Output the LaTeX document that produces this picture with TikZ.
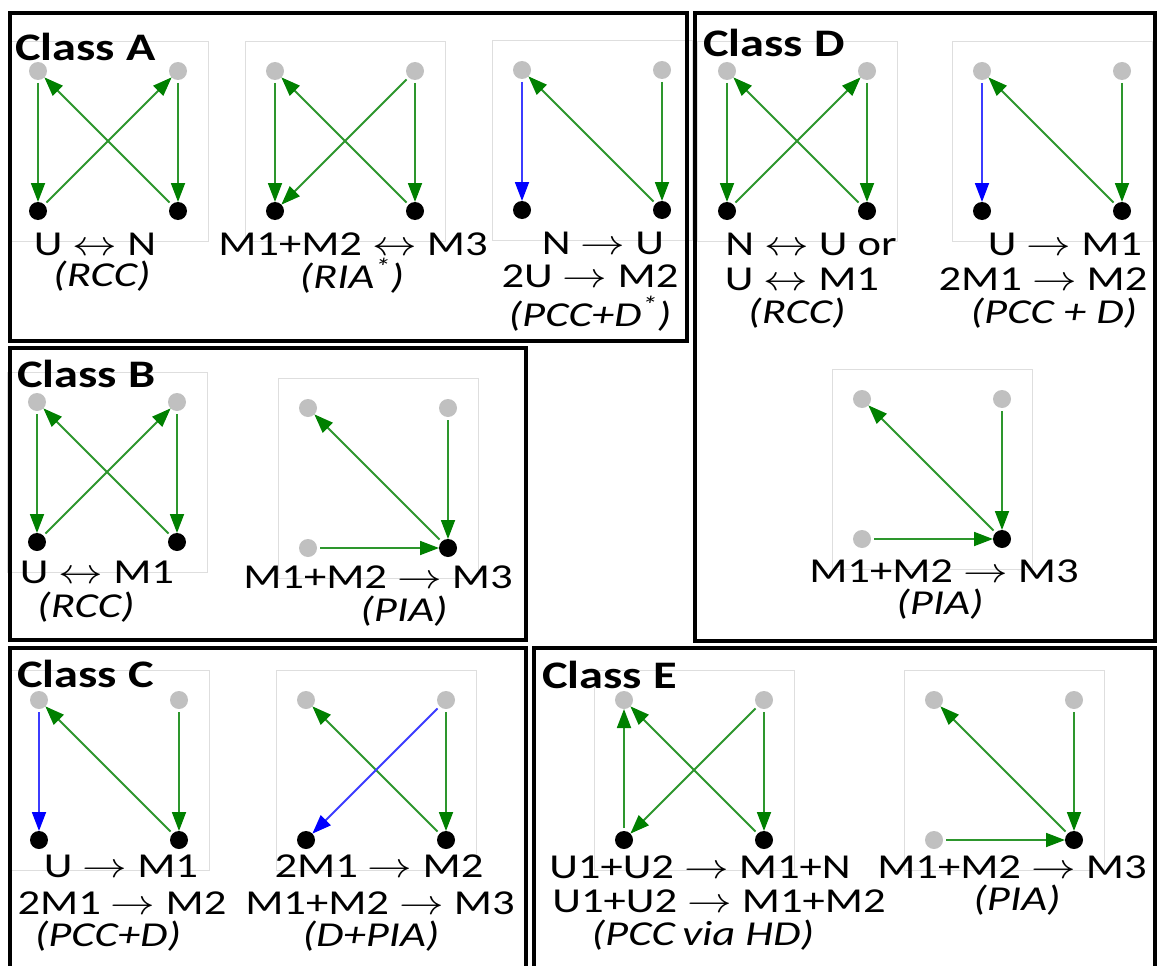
\RequirePackage{fix-cm}
\documentclass[tikz,border=0pt]{standalone}
\usepackage{fontspec}
\setmainfont{Carlito}
\usepackage{graphicx}
\usetikzlibrary{arrows.meta}
\definecolor{eg}{RGB}{0,128,0}
\definecolor{lg}{RGB}{45,150,45}
\definecolor{eb}{RGB}{0,0,255}
\definecolor{lb}{RGB}{60,60,255}
\definecolor{dotgray}{RGB}{192,192,192}
\definecolor{framegray}{RGB}{222,222,222}
\newcommand\sx[1]{\scalebox{1.275}[1]{#1}}
\newcommand\sxb[1]{\scalebox{1.24}[1]{#1}}
\newcommand\mkpanel[4]{%
  \draw[pframe] (#2-30,#3-30) rectangle (#2+170,#3+170);
  \node[gdot] (#1a) at (#2,#3) {};
  \node[gdot] (#1b) at (#2+140,#3) {};
  \node[#4] (#1c) at (#2,#3+140) {};
  \node[bdot] (#1d) at (#2+140,#3+140) {};}
\tikzset{
  gdot/.style={circle, fill=dotgray, minimum size=18pt, inner sep=0pt, outer sep=0pt},
  bdot/.style={circle, fill=black, minimum size=18pt, inner sep=0pt, outer sep=0pt},
  garr/.style={draw=lg, line width=1.8pt, -{Triangle[length=19pt,width=14pt,color=eg]}, shorten <=3pt},
  barr/.style={draw=lb, line width=1.8pt, -{Triangle[length=19pt,width=14pt,color=eb]}, shorten <=3pt},
  pframe/.style={draw=framegray, line width=0.8pt},
  cbox/.style={draw=black, line width=4pt},
  lbl/.style={anchor=base, inner sep=0pt, text height=24pt, text depth=5pt, font=\fontsize{35}{35}\selectfont},
  ilbl/.style={anchor=base, inner sep=0pt, text height=24pt, text depth=5pt, font=\fontsize{35}{35}\selectfont\itshape},
  clbl/.style={anchor=base west, inner sep=0pt, font=\fontsize{39}{39}\selectfont\bfseries}
}
\begin{document}
\begin{tikzpicture}[x=1pt,y=-1pt]
\useasboundingbox (0,0) rectangle (1157,966);
\clip (0,0) rectangle (1157,966);
\fill[white] (0,0) rectangle (1157,966);
% panels
\mkpanel{A1}{38}{71}{bdot}
\mkpanel{A2}{275}{71}{bdot}
\mkpanel{A3}{522}{70}{bdot}
\mkpanel{D1}{727}{71}{bdot}
\mkpanel{D2}{982}{71}{bdot}
\mkpanel{D3}{862}{399}{gdot}
\mkpanel{B1}{37}{402}{bdot}
\mkpanel{B2}{308}{408}{gdot}
\mkpanel{C1}{39}{700}{bdot}
\mkpanel{C2}{306}{700}{bdot}
\mkpanel{E1}{624}{700}{bdot}
\mkpanel{E2}{934}{700}{gdot}
% edges
\draw[garr] (A1a) -- (A1c); \draw[garr] (A1b) -- (A1d);
\draw[garr] (A1c) -- (A1b); \draw[garr] (A1d) -- (A1a);
\draw[garr] (A2a) -- (A2c); \draw[garr] (A2b) -- (A2d);
\draw[garr] (A2d) -- (A2a); \draw[garr] (A2b) -- (A2c);
\draw[barr] (A3a) -- (A3c); \draw[garr] (A3d) -- (A3a); \draw[garr] (A3b) -- (A3d);
\draw[garr] (D1a) -- (D1c); \draw[garr] (D1b) -- (D1d);
\draw[garr] (D1c) -- (D1b); \draw[garr] (D1d) -- (D1a);
\draw[barr] (D2a) -- (D2c); \draw[garr] (D2d) -- (D2a); \draw[garr] (D2b) -- (D2d);
\draw[garr] (D3d) -- (D3a); \draw[garr] (D3b) -- (D3d); \draw[garr] (D3c) -- (D3d);
\draw[garr] (B1a) -- (B1c); \draw[garr] (B1b) -- (B1d);
\draw[garr] (B1c) -- (B1b); \draw[garr] (B1d) -- (B1a);
\draw[garr] (B2d) -- (B2a); \draw[garr] (B2b) -- (B2d); \draw[garr] (B2c) -- (B2d);
\draw[barr] (C1a) -- (C1c); \draw[garr] (C1d) -- (C1a); \draw[garr] (C1b) -- (C1d);
\draw[garr] (C2d) -- (C2a); \draw[barr] (C2b) -- (C2c); \draw[garr] (C2b) -- (C2d);
\draw[garr] (E1c) -- (E1a); \draw[garr] (E1d) -- (E1a);
\draw[garr] (E1b) -- (E1c); \draw[garr] (E1b) -- (E1d);
\draw[garr] (E2d) -- (E2a); \draw[garr] (E2b) -- (E2d); \draw[garr] (E2c) -- (E2d);
% class labels
\node[clbl] (tA) at (15,60) {\sxb{Class A}};
\node[clbl] (tD) at (703,57) {\sxb{Class D}};
\node[clbl] (tB) at (17,387) {\sxb{Class B}};
\node[clbl] (tC) at (17,687) {\sxb{Class C}};
\node[clbl] (tE) at (542,688) {\sxb{Class E}};
% Class A texts
\node[lbl] (a1) at (95,255) {\sx{U $\leftrightarrow$ N}};
\node[ilbl] (a2) at (102,286) {\sx{(RCC)}};
\node[lbl] (a3) at (353,255) {\sx{M1+M2 $\leftrightarrow$ M3}};
\node[ilbl] (a4) at (352,288) {\sx{(RIA\textsuperscript{*})}};
\node[lbl] (a5) at (603,254) {\sx{N $\rightarrow$ U}};
\node[lbl] (a6) at (590,287) {\sx{2U $\rightarrow$ M2}};
\node[ilbl] (a7) at (590,326) {\sx{(PCC+D\textsuperscript{*})}};
% Class D texts
\node[lbl] (d1) at (811,255) {\sx{N $\leftrightarrow$ U or}};
\node[lbl] (d2) at (802,290) {\sx{U $\leftrightarrow$ M1}};
\node[ilbl] (d3) at (797,323) {\sx{(RCC)}};
\node[lbl] (d4) at (1065,255) {\sx{U $\rightarrow$ M1}};
\node[lbl] (d5) at (1043,290) {\sx{2M1 $\rightarrow$ M2}};
\node[ilbl] (d6) at (1054,323) {\sx{(PCC + D)}};
\node[lbl] (d7) at (944,582) {\sx{M1+M2 $\rightarrow$ M3}};
\node[ilbl] (d8) at (940,614) {\sx{(PIA)}};
% Class B texts
\node[lbl] (b1) at (97,583) {\sx{U $\leftrightarrow$ M1}};
\node[ilbl] (b2) at (86,617) {\sx{(RCC)}};
\node[lbl] (b3) at (378,588) {\sx{M1+M2 $\rightarrow$ M3}};
\node[ilbl] (b4) at (404,621) {\sx{(PIA)}};
% Class C texts
\node[lbl] (c1) at (121,877) {\sx{U $\rightarrow$ M1}};
\node[lbl] (c2) at (122,914) {\sx{2M1 $\rightarrow$ M2}};
\node[ilbl] (c3) at (108,946) {\sx{(PCC+D)}};
\node[lbl] (c4) at (379,877) {\sx{2M1 $\rightarrow$ M2}};
\node[lbl] (c5) at (380,914) {\sx{M1+M2 $\rightarrow$ M3}};
\node[ilbl] (c6) at (371,946) {\sx{(D+PIA)}};
% Class E texts
\node[lbl] (e1) at (700,878) {\sx{U1+U2 $\rightarrow$ M1+N}};
\node[lbl] (e2) at (719,912) {\sx{U1+U2 $\rightarrow$ M1+M2}};
\node[ilbl] (e3) at (703,945) {\sx{(PCC\,via HD)}};
\node[lbl] (e4) at (1012,878) {\sx{M1+M2 $\rightarrow$ M3}};
\node[ilbl] (e5) at (1017,910) {\sx{(PIA)}};
% class boxes
\draw[cbox] (10,13) rectangle (687,341);
\draw[cbox] (695,13) rectangle (1155,641);
\draw[cbox] (10,348) rectangle (526,640);
\draw[cbox] (10,648) rectangle (526,990);
\draw[cbox] (534,648) rectangle (1155,990);
\end{tikzpicture}
\end{document}
